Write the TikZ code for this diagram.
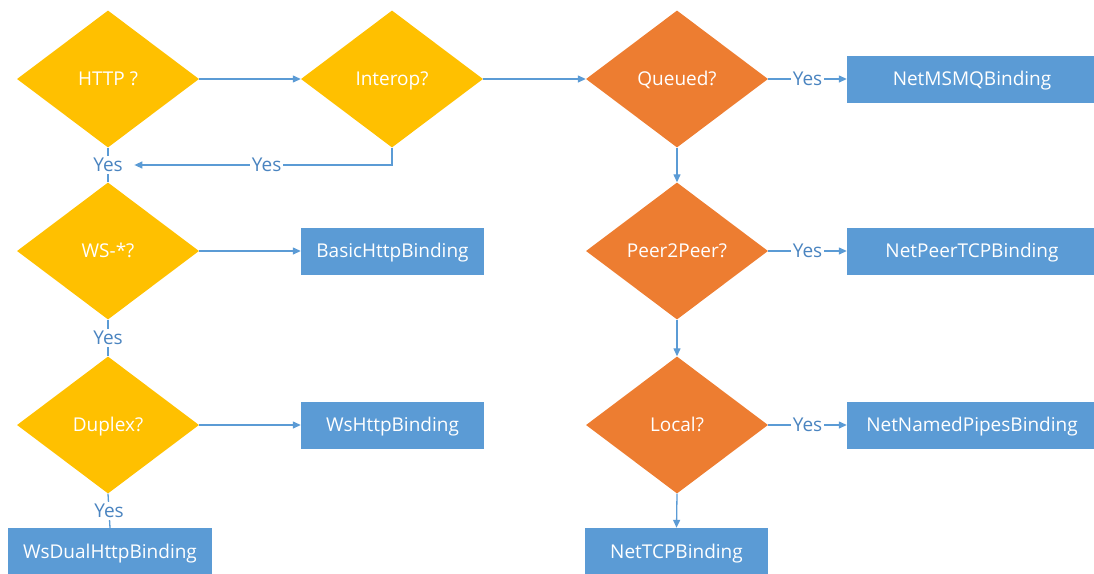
\documentclass[tikz,border=0pt]{standalone}
\usepackage{fontspec}
\setmainfont{Open Sans}
\usetikzlibrary{shapes.geometric,arrows.meta}
\definecolor{cyel}{HTML}{FFC000}
\definecolor{corg}{HTML}{ED7D31}
\definecolor{cblu}{HTML}{5B9BD5}
\definecolor{clbl}{HTML}{4A84C0}
\begin{document}
\begin{tikzpicture}[x=1pt,y=-1pt,
 txt/.style={font=\fontsize{19}{22}\selectfont, text height=14pt, text depth=1pt},
 dec/.style={diamond, aspect=1.33, minimum width=182pt, minimum height=137pt, inner sep=0pt, text=white, txt},
 ydec/.style={dec, fill=cyel},
 odec/.style={dec, fill=corg},
 bind/.style={rectangle, fill=cblu, text=white, minimum height=47pt, inner sep=0pt, txt},
 conn/.style={draw=cblu, line width=1.3pt},
 arr/.style={conn, -{Triangle[length=8pt,width=7pt]}},
 lbl/.style={fill=white, text=clbl, inner xsep=2pt, inner ysep=1.5pt, txt}
]
\useasboundingbox (0,0) rectangle (1094,573);
% decisions
\node[ydec] (http) at (108,79) {HTTP ?};
\node[ydec] (interop) at (392,79) {Interop?};
\node[ydec] (ws) at (108,251) {WS-*?};
\node[ydec] (duplex) at (108,425) {Duplex?};
\node[odec] (queued) at (677,79) {Queued?};
\node[odec] (peer) at (677,251) {Peer2Peer?};
\node[odec] (local) at (677,425) {Local?};
% bindings
\node[bind, minimum width=183pt] (basic) at (392.5,251) {BasicHttpBinding};
\node[bind, minimum width=183pt] (wshttp) at (392.5,425) {WsHttpBinding};
\node[bind, minimum width=204pt] (wsdual) at (110,551.5) {WsDualHttpBinding};
\node[bind, minimum width=250pt] (msmq) at (972,79) {NetMSMQBinding};
\node[bind, minimum width=250pt] (peertcp) at (972,251) {NetPeerTCPBinding};
\node[bind, minimum width=250pt] (pipes) at (972,425) {NetNamedPipesBinding};
\node[bind, minimum width=183pt] (tcp) at (676.5,551.5) {NetTCPBinding};
% connectors
\draw[arr] (http.east) -- (interop.west);
\draw[conn] (http.south) -- node[lbl] (yes1) {Yes} (ws.north);
\draw[arr, shorten >=9pt] (interop.south) |- node[lbl, pos=0.735] {Yes} (yes1.east);
\draw[arr] (ws.east) -- (basic.west);
\draw[conn] (ws.south) -- node[lbl] {Yes} (duplex.north);
\draw[arr] (duplex.east) -- (wshttp.west);
\draw[conn] (duplex.south) -- node[lbl] {Yes} (wsdual.north);
\draw[arr] (interop.east) -- (queued.west);
\draw[arr] (queued.east) -- node[lbl] {Yes} (msmq.west);
\draw[arr] (queued.south) -- (peer.north);
\draw[arr] (peer.east) -- node[lbl] {Yes} (peertcp.west);
\draw[arr] (peer.south) -- (local.north);
\draw[arr] (local.east) -- node[lbl] {Yes} (pipes.west);
\draw[arr] (local.south) -- (tcp.north);
\end{tikzpicture}
\end{document}
